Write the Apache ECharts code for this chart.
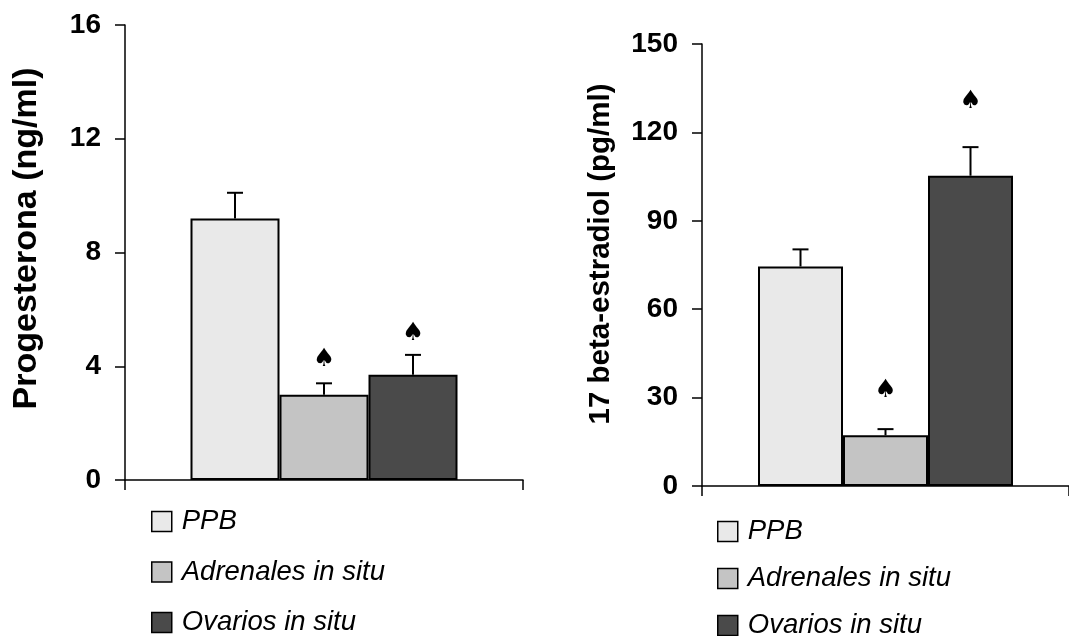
<!DOCTYPE html>
<html>
<head>
<meta charset="utf-8">
<script src="https://cdn.jsdelivr.net/npm/echarts@6/dist/echarts.min.js"></script>
<style>
  html, body { margin: 0; padding: 0; background: #fff; }
  #main { width: 1069px; height: 636px; }
</style>
</head>
<body>
<div id="main"></div>
<script>
// grupos experimentales
const groups = ["PPB", "Adrenales in situ", "Ovarios in situ"];
const fills = ["#e9e9e9", "#c4c4c4", "#4a4a4a"];

// progesterona (ng/ml): media, extremo superior del error, posicion del simbolo
const progMean = [9.2, 3.0, 3.7];
const progErrTop = [10.1, 3.4, 4.4];
const progMark = [null, 4.25, 5.15];
const progTicks = [0, 4, 8, 12, 16];

// 17 beta-estradiol (pg/ml)
const estrMean = [74.5, 17.2, 105.3];
const estrErrTop = [80.3, 19.3, 115.0];
const estrMark = [null, 32.5, 130.5];
const estrTicks = [0, 30, 60, 90, 120, 150];

const FONT = 'Arial, "Liberation Sans", sans-serif';

const chart = echarts.init(document.getElementById("main"));

function errRender(barW) {
  return function (params, api) {
    const idx = api.value(3);
    const base = api.coord([0, api.value(1)]);
    const top = api.coord([0, api.value(2)]);
    const x = base[0] + (idx - 1) * barW;
    const children = [
      { type: "line", shape: { x1: x, y1: base[1], x2: x, y2: top[1] },
        style: { stroke: "#000", lineWidth: 2 } },
      { type: "line", shape: { x1: x - 8, y1: top[1], x2: x + 8, y2: top[1] },
        style: { stroke: "#000", lineWidth: 2 } }
    ];
    const m = api.value(4);
    if (m != null && !isNaN(m)) {
      const p = api.coord([0, m]);
      children.push({
        type: "text", x: x, y: p[1],
        style: { text: "\u2660", fontSize: 25, fill: "#000", align: "center",
                 verticalAlign: "middle", fontFamily: "DejaVu Sans" }
      });
    }
    return { type: "group", children: children };
  };
}

function valueAxis(grid, ticks, name, gap, nameSize, shift) {
  return {
    type: "value", gridIndex: grid,
    min: ticks[0], max: ticks[ticks.length - 1], interval: ticks[1] - ticks[0],
    name: name, nameLocation: "middle", nameGap: gap,
    nameTextStyle: { fontSize: nameSize, fontWeight: "bold", color: "#000", fontFamily: FONT,
                     padding: [0, 0, 0, shift] },
    axisLine: { show: true, lineStyle: { color: "#000", width: 1.5 } },
    axisTick: { show: true, inside: false, length: 10, lineStyle: { color: "#000", width: 1.5 } },
    axisLabel: { fontSize: 28, fontWeight: "bold", color: "#000", margin: 24, fontFamily: FONT },
    splitLine: { show: false }
  };
}

function catAxis(grid) {
  return {
    type: "category", gridIndex: grid, data: [""],
    axisLine: { show: true, lineStyle: { color: "#000", width: 1.5 } },
    axisTick: { show: true, inside: false, length: 10, lineStyle: { color: "#000", width: 1.5 } },
    axisLabel: { show: false },
    splitLine: { show: false }
  };
}

function barSeries(grid, means, barW) {
  return groups.map(function (g, i) {
    return {
      type: "bar", name: g, xAxisIndex: grid, yAxisIndex: grid,
      data: [means[i]], barWidth: barW, barGap: "0%",
      itemStyle: { color: fills[i], borderColor: "#000", borderWidth: 2 },
      emphasis: { disabled: true }
    };
  });
}

function errSeries(grid, means, tops, marks, barW) {
  return {
    type: "custom", xAxisIndex: grid, yAxisIndex: grid, z: 5,
    renderItem: errRender(barW),
    encode: { x: 0, y: [1, 2] },
    data: means.map(function (m, i) { return [0, m, tops[i], i, marks[i]]; })
  };
}

function legend(left, top, gap) {
  return {
    orient: "vertical", left: left, top: top, height: 170, padding: 0, data: groups,
    icon: "rect", itemWidth: 20, itemHeight: 20, itemGap: gap,
    selectedMode: false,
    itemStyle: { borderColor: "#000", borderWidth: 1.5 },
    textStyle: { fontSize: 27.5, fontStyle: "italic", color: "#000",
                 fontFamily: FONT, padding: [0, 0, 0, 5] }
  };
}

chart.setOption({
  animation: false,
  grid: [
    { left: 125, top: 25, width: 398, height: 455 },
    { left: 702, top: 44, width: 375, height: 442 }
  ],
  xAxis: [catAxis(0), catAxis(1)],
  yAxis: [
    valueAxis(0, progTicks, "Progesterona (ng/ml)", 81, 34, 28),
    valueAxis(1, estrTicks, "17 beta-estradiol (pg/ml)", 86, 29.5, 22)
  ],
  legend: [legend(151, 508, 23.5), legend(717, 518, 20)],
  series: []
    .concat(barSeries(0, progMean, 89))
    .concat(barSeries(1, estrMean, 85))
    .concat([errSeries(0, progMean, progErrTop, progMark, 89),
             errSeries(1, estrMean, estrErrTop, estrMark, 85)])
});
</script>
</body>
</html>
